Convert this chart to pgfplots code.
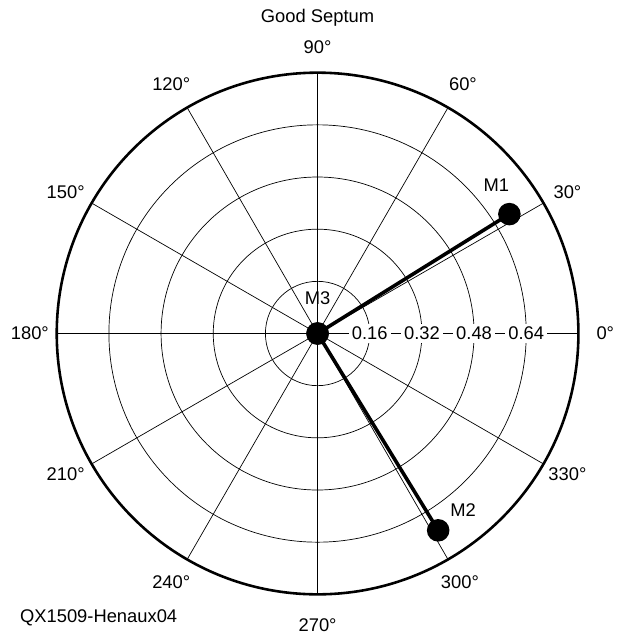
\documentclass[border=0pt]{standalone}
\usepackage{fontspec}
\setmainfont{Liberation Sans}
\usepackage{pgfplots}
\pgfplotsset{compat=1.18}
\usepgfplotslibrary{polar}

\begin{document}
\begin{tikzpicture}[every node/.style={font=\fontsize{18.5}{21}\selectfont}]
\begin{polaraxis}[
  width=524bp, height=524bp, scale only axis,
  ymin=0, ymax=0.8,
  xtick={0,30,...,330},
  ytick={0.16,0.32,0.48,0.64},
  xticklabels={}, yticklabels={},
  major tick length=0pt,
  grid=major,
  major grid style={black, line width=0.7bp},
  x axis line style={black, line width=2.6bp},
  y axis line style={black, line width=0.7bp},
  clip=false,
]
  % vectors from the origin, each ending in a filled marker
  \addplot[black, line width=3.6bp, mark=*, mark size=9.5bp]
    coordinates {(0,0) (31.9,0.693)};
  \addplot[black, line width=3.6bp, mark=*, mark size=9.5bp]
    coordinates {(0,0) (301.5,0.708)};

  % marker names
  \node at ([shift={(-13bp,29bp)}]axis cs:31.9,0.693) {M1};
  \node at ([shift={(25bp,20bp)}]axis cs:301.5,0.708) {M2};
  \node at ([shift={(0bp,35bp)}]axis cs:0,0) {M3};

  % radial scale along the 0 degree spoke
  \pgfplotsinvokeforeach{0.16,0.32,0.48,0.64}{
    \node[fill=white, inner sep=3bp] at (axis cs:0,#1) {#1};
  }

  \coordinate (O) at (axis cs:0,0);
\end{polaraxis}

% angle labels
\node at ([shift={(289bp,0bp)}]O)    {0°};
\node at ([shift={(251bp,142bp)}]O)  {30°};
\node at ([shift={(146bp,250bp)}]O)  {60°};
\node at ([shift={(0bp,288bp)}]O)    {90°};
\node at ([shift={(-147bp,250bp)}]O) {120°};
\node at ([shift={(-253bp,142bp)}]O) {150°};
\node at ([shift={(-289bp,0bp)}]O)   {180°};
\node at ([shift={(-253bp,-141bp)}]O){210°};
\node at ([shift={(-147bp,-250bp)}]O){240°};
\node at ([shift={(0bp,-293bp)}]O)   {270°};
\node at ([shift={(143bp,-250bp)}]O) {300°};
\node at ([shift={(251bp,-141bp)}]O) {330°};

\node at ([shift={(0bp,317bp)}]O) {Good Septum};
\node[anchor=west, inner sep=0pt] at ([shift={(-299bp,-286bp)}]O) {QX1509-Henaux04};

\path[use as bounding box] ([shift={(-319bp,335bp)}]O) rectangle ([shift={(299bp,-300bp)}]O);
\end{tikzpicture}
\end{document}
